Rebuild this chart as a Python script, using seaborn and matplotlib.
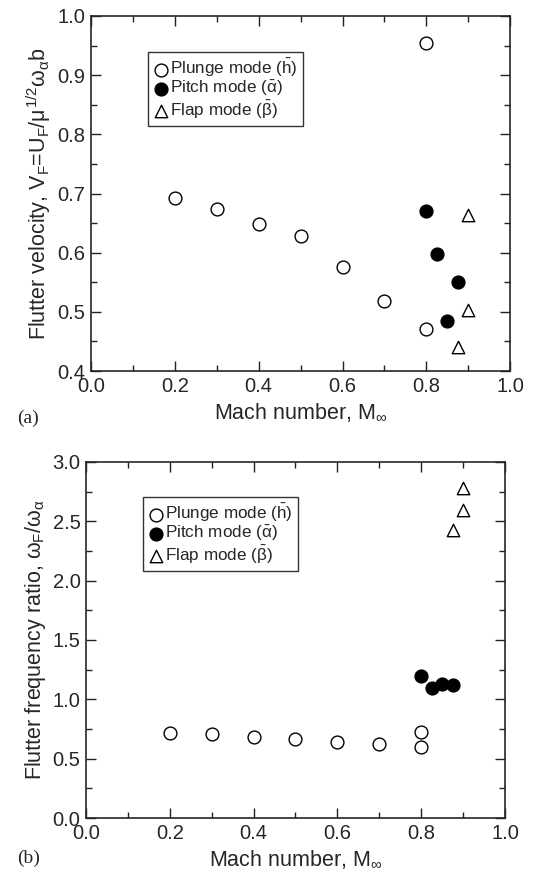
import numpy as np
import pandas as pd
import seaborn as sns
import matplotlib.pyplot as plt
from matplotlib.ticker import MultipleLocator

# data
plunge_mach = [0.2, 0.3, 0.4, 0.5, 0.6, 0.7, 0.8, 0.8]
plunge_vel = [0.693, 0.674, 0.649, 0.629, 0.575, 0.519, 0.471, 0.955]
plunge_freq = [0.719, 0.705, 0.685, 0.669, 0.643, 0.621, 0.596, 0.728]

pitch_mach = [0.8, 0.825, 0.85, 0.875]
pitch_vel = [0.671, 0.598, 0.485, 0.551]
pitch_freq = [1.197, 1.096, 1.126, 1.121]

flap_mach = [0.875, 0.9, 0.9]
flap_vel = [0.441, 0.503, 0.664]
flap_freq = [2.424, 2.593, 2.784]

labels = ['Plunge mode ($\\bar{h}$)', 'Pitch mode ($\\bar{\\alpha}$)', 'Flap mode ($\\bar{\\beta}$)']

sns.set_style('ticks')
plt.rcParams['font.family'] = ['Liberation Sans', 'DejaVu Sans']
plt.rcParams['mathtext.fontset'] = 'custom'
plt.rcParams['mathtext.rm'] = 'Liberation Sans'
plt.rcParams['mathtext.it'] = 'Liberation Sans'
plt.rcParams['mathtext.bf'] = 'Liberation Sans'

df = pd.concat([
    pd.DataFrame({'mach': plunge_mach, 'vel': plunge_vel, 'freq': plunge_freq, 'mode': labels[0]}),
    pd.DataFrame({'mach': pitch_mach, 'vel': pitch_vel, 'freq': pitch_freq, 'mode': labels[1]}),
    pd.DataFrame({'mach': flap_mach, 'vel': flap_vel, 'freq': flap_freq, 'mode': labels[2]}),
])
face = {labels[0]: 'white', labels[1]: 'black', labels[2]: 'white'}
marks = {labels[0]: 'o', labels[1]: 'o', labels[2]: '^'}

fig = plt.figure(figsize=(5.51, 8.73), dpi=100)
ax1 = fig.add_axes([0.165, 0.575, 0.761, 0.4067])
ax2 = fig.add_axes([0.156, 0.063, 0.7605, 0.4078])


def draw(ax, ycol, ylim, ymaj, ymin, ylabel, legpos):
    for lab in labels:
        sub = df[df['mode'] == lab]
        sns.scatterplot(data=sub, x='mach', y=ycol, ax=ax, marker=marks[lab],
                        color=face[lab], edgecolor='black', linewidth=1.0,
                        s=85 if marks[lab] == 'o' else 80, label=lab, zorder=3)
    ax.set_xlim(0, 1.0)
    ax.set_ylim(*ylim)
    ax.xaxis.set_major_locator(MultipleLocator(0.2))
    ax.xaxis.set_minor_locator(MultipleLocator(0.1))
    ax.yaxis.set_major_locator(MultipleLocator(ymaj))
    ax.yaxis.set_minor_locator(MultipleLocator(ymin))
    ax.xaxis.set_major_formatter(lambda v, p: f'{v:.1f}')
    ax.yaxis.set_major_formatter(lambda v, p: f'{v:.1f}')
    ax.tick_params(which='both', direction='in', top=True, right=True,
                   labelsize=14.5, width=1.0, color='#222222')
    ax.tick_params(which='major', length=7, pad=4)
    ax.tick_params(which='minor', length=4)
    for sp in ax.spines.values():
        sp.set_linewidth(1.2)
    ax.set_xlabel('Mach number, M$_{\\infty}$', fontsize=15.5, labelpad=4)
    ax.set_ylabel(ylabel, fontsize=15.5, labelpad=3)
    leg = ax.legend(loc='upper left', bbox_to_anchor=legpos, fontsize=12.3,
                    frameon=True, fancybox=False, edgecolor='black',
                    handletextpad=0.1, handlelength=0.9, borderpad=0.3,
                    labelspacing=0.0, borderaxespad=0)
    leg.get_frame().set_linewidth(1.0)


draw(ax1, 'vel', (0.4, 1.0), 0.1, 0.05,
     'Flutter velocity, V$_{F}$=U$_{F}$/$\\mu^{1/2}\\omega_{\\alpha}$b',
     (0.136, 0.899))
draw(ax2, 'freq', (0.0, 3.0), 0.5, 0.25,
     'Flutter frequency ratio, $\\omega_{F}$/$\\omega_{\\alpha}$',
     (0.136, 0.902))

fig.text(0.031, 0.516, '(a)', fontsize=14, family='Liberation Serif')
fig.text(0.031, 0.012, '(b)', fontsize=14, family='Liberation Serif')

plt.savefig('out.png', dpi=100)
